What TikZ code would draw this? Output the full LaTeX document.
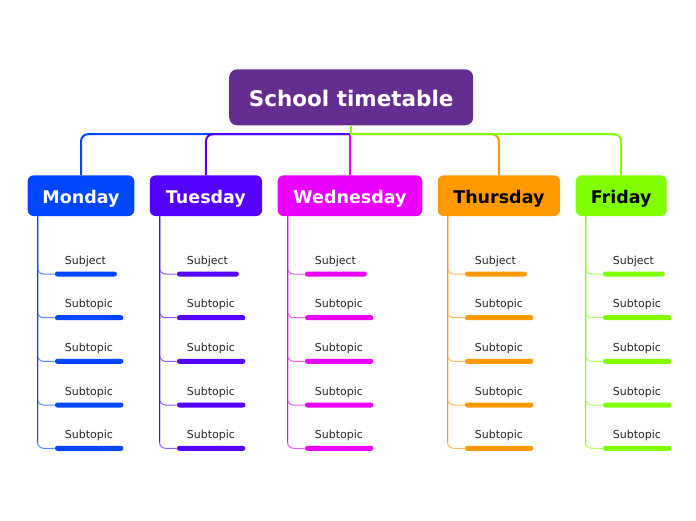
\documentclass[tikz,border=0pt]{standalone}
\usepackage{fontspec}
\setmainfont{DejaVu Sans}
\definecolor{rootc}{HTML}{662D91}
\definecolor{monc}{HTML}{0047FF}
\definecolor{tuec}{HTML}{5500FF}
\definecolor{wedc}{HTML}{EA00FF}
\definecolor{thuc}{HTML}{FF9900}
\definecolor{fric}{HTML}{80FF00}
\begin{document}
\begin{tikzpicture}[x=1pt,y=-1pt,
  rootbox/.style={fill=rootc, rounded corners=8pt, minimum width=244pt, minimum height=56pt, text=white, font=\fontsize{21.5}{25}\selectfont\bfseries, inner sep=0pt, text height=17.7pt, text depth=0pt},
  daybox/.style={rounded corners=6pt, minimum height=40.7pt, inner sep=0pt, font=\fontsize{17.5}{20}\selectfont\bfseries, text height=14.8pt, text depth=0pt},
  bar/.style={fill=#1, rounded corners=2.5pt, minimum height=5pt, inner sep=0pt, anchor=west},
  lbl/.style={font=\fontsize{11}{13}\selectfont, text=black!85, anchor=west, inner sep=0pt, text height=8pt, text depth=2pt},
  link/.style={draw=#1, line width=2pt, rounded corners=7pt},
  stem/.style={draw=#1, line width=1pt},
  twig/.style={draw=#1!65, line width=1pt, rounded corners=6pt}]
\useasboundingbox[fill=white] (0,0) rectangle (696,520);
\node[rootbox] (root) at (351.2,97.3) {School timetable};
\node[daybox, fill=monc, text=white, minimum width=106.6pt] (mon) at (81,195.7) {Monday};
\node[daybox, fill=tuec, text=white, minimum width=112.3pt] (tue) at (205.9,195.7) {Tuesday};
\node[daybox, fill=wedc, text=white, minimum width=144.6pt] (wed) at (350,195.7) {Wednesday};
\node[daybox, fill=thuc, text=black, minimum width=122.3pt] (thu) at (498.9,195.7) {Thursday};
\node[daybox, fill=fric, text=black, minimum width=91pt] (fri) at (621.2,195.7) {Friday};
\coordinate (hub) at ([yshift=-8.7pt]root.south);
\draw[link=monc] (hub) -| (mon.north);
\draw[link=tuec] (hub) -| (tue.north);
\draw[link=wedc] (wed.north) -- (wed.north |- hub);
\draw[link=thuc] (hub) -| (thu.north);
\draw[link=fric] (hub) -| (fri.north);
\draw[link=fric] (root.south) -- ([yshift=-1pt]hub);
\foreach \id/\lft/\col in {mon/27.7/monc, tue/149.7/tuec, wed/277.7/wedc, thu/437.7/thuc, fri/575.7/fric} {
  \foreach \by/\bw/\t [count=\i] in {274/62/Subject, 317.7/68.5/Subtopic, 361.3/68.5/Subtopic, 405/68.5/Subtopic, 448.3/68.5/Subtopic} {
    \node[bar=\col, minimum width=\bw*1pt] (\id-b\i) at (\lft+27, \by) {};
    \node[lbl] (\id-l\i) at (\lft+37, \by-13) {\t};
    \draw[twig=\col] ([xshift=10pt]\id.south west) |- (\id-b\i.west);
  }
  \draw[stem=\col] ([xshift=10pt]\id.south west) -- (\lft+10,442);
}
\end{tikzpicture}
\end{document}
